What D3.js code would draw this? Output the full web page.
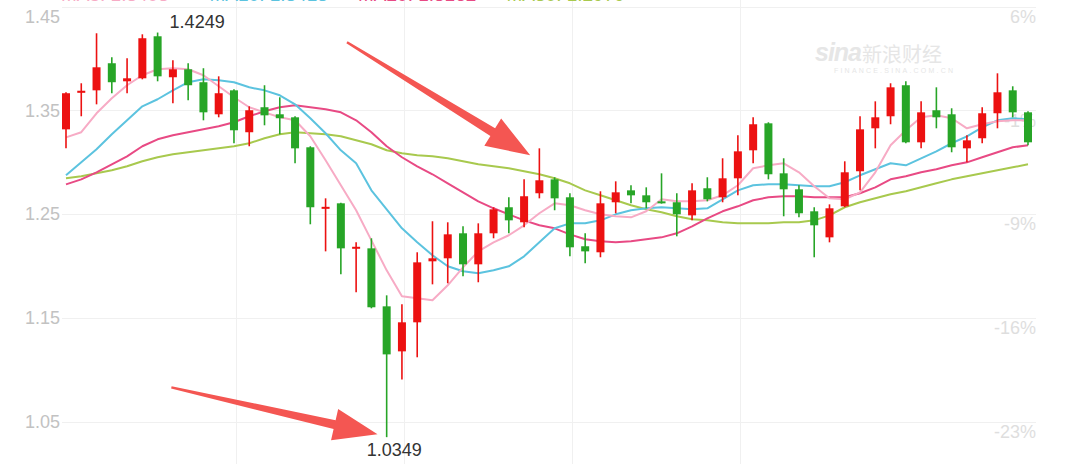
<!DOCTYPE html>
<html>
<head>
<meta charset="utf-8">
<script src="https://cdn.jsdelivr.net/npm/d3@7"></script>
<style>
  html, body { margin: 0; padding: 0; background: #fff; }
  svg { display: block; font-family: "Liberation Sans", Arial, sans-serif; }
</style>
</head>
<body>
<div id="chart"></div>
<script>
/* 日K线 + MA5/10/20/30 */
const openP = [1.3316,1.3668,1.3692,1.3953,1.3779,1.3808,1.4213,1.3818,1.3895,1.3770,
  1.3461,1.3692,1.3288,1.3529,1.3461,1.3432,1.3143,1.2555,1.2603,1.2169,
  1.2169,1.1610,1.1176,1.1456,1.2044,1.2073,1.2314,1.2015,1.2314,1.2565,
  1.2420,1.2700,1.2834,1.2661,1.2189,1.2131,1.2613,1.2728,1.2680,1.2622,
  1.2613,1.2487,1.2748,1.2661,1.2844,1.3114,1.3374,1.2892,1.2738,1.2526,
  1.2275,1.2574,1.2912,1.3326,1.3442,1.3741,1.3191,1.3500,1.3461,1.3133,
  1.3230,1.3471,1.3692,1.3480];
const highP = [1.3673,1.3760,1.4242,1.4011,1.4001,1.4232,1.4249,1.3982,1.3953,1.3905,
  1.3827,1.3702,1.3538,1.3741,1.3625,1.3442,1.3153,1.2651,1.2608,1.2227,
  1.2266,1.1716,1.1629,1.2131,1.2430,1.2420,1.2381,1.2410,1.2565,1.2661,
  1.2834,1.3133,1.2854,1.2700,1.2314,1.2719,1.2815,1.2777,1.2757,1.2892,
  1.2700,1.2796,1.2854,1.3037,1.3259,1.3432,1.3384,1.3037,1.2777,1.2565,
  1.2593,1.3008,1.3442,1.3586,1.3760,1.3779,1.3586,1.3721,1.3519,1.3259,
  1.3529,1.3856,1.3731,1.3490];
const lowP = [1.3133,1.3442,1.3557,1.3664,1.3664,1.3798,1.3779,1.3567,1.3596,1.3403,
  1.3432,1.3182,1.3153,1.3355,1.3268,1.2989,1.2401,1.2140,1.1919,1.1745,
  1.1591,1.0349,1.0906,1.1119,1.1822,1.1832,1.1899,1.1842,1.2266,1.2314,
  1.2372,1.2651,1.2536,1.2092,1.2025,1.2083,1.2507,1.2603,1.2555,1.2600,
  1.2285,1.2439,1.2622,1.2613,1.2680,1.2989,1.2834,1.2478,1.2468,1.2083,
  1.2227,1.2565,1.2728,1.3133,1.3365,1.3182,1.3133,1.3326,1.3095,1.2998,
  1.3182,1.3326,1.3432,1.3162];
const closeP = [1.3664,1.3688,1.3914,1.3770,1.3808,1.4194,1.3827,1.3895,1.3741,1.3480,
  1.3664,1.3307,1.3500,1.3451,1.3423,1.3133,1.2565,1.2569,1.2169,1.2184,
  1.1601,1.1147,1.1456,1.2034,1.2073,1.2304,1.2015,1.2314,1.2545,1.2439,
  1.2671,1.2825,1.2651,1.2179,1.2140,1.2603,1.2709,1.2680,1.2613,1.2603,
  1.2497,1.2728,1.2642,1.2844,1.3104,1.3365,1.2883,1.2738,1.2507,1.2391,
  1.2555,1.2902,1.3316,1.3432,1.3721,1.3191,1.3480,1.3432,1.3143,1.3210,
  1.3471,1.3673,1.3480,1.3191];

const ma5 = [1.3239,1.3288,1.3471,1.3615,1.3741,1.3837,1.3895,1.3905,1.3895,1.3837,
  1.3731,1.3625,1.3529,1.3480,1.3432,1.3403,1.3249,1.3018,1.2777,1.2536,
  1.2246,1.1957,1.1707,1.1687,1.1668,1.1813,1.1986,1.2140,1.2227,1.2295,
  1.2391,1.2507,1.2603,1.2584,1.2536,1.2497,1.2478,1.2468,1.2526,1.2642,
  1.2622,1.2622,1.2632,1.2680,1.2777,1.2941,1.2969,1.2989,1.2902,1.2767,
  1.2651,1.2642,1.2709,1.2902,1.3162,1.3307,1.3432,1.3451,1.3423,1.3326,
  1.3365,1.3394,1.3403,1.3403];
const ma10 = [1.2873,1.2998,1.3124,1.3268,1.3403,1.3538,1.3606,1.3692,1.3770,1.3798,
  1.3789,1.3770,1.3721,1.3692,1.3644,1.3557,1.3423,1.3278,1.3114,1.2989,
  1.2728,1.2545,1.2362,1.2227,1.2102,1.1996,1.1948,1.1928,1.1957,1.1996,
  1.2092,1.2227,1.2362,1.2410,1.2410,1.2439,1.2497,1.2536,1.2555,1.2565,
  1.2555,1.2545,1.2555,1.2642,1.2728,1.2777,1.2786,1.2786,1.2777,1.2767,
  1.2767,1.2806,1.2873,1.2931,1.2989,1.2969,1.3037,1.3104,1.3182,1.3249,
  1.3336,1.3403,1.3423,1.3413];
const ma20 = [1.2786,1.2834,1.2902,1.2979,1.3056,1.3153,1.3220,1.3259,1.3288,1.3316,
  1.3345,1.3384,1.3442,1.3490,1.3529,1.3548,1.3529,1.3509,1.3480,1.3403,
  1.3288,1.3153,1.3047,1.2960,1.2883,1.2796,1.2709,1.2622,1.2555,1.2497,
  1.2439,1.2391,1.2362,1.2304,1.2256,1.2237,1.2227,1.2237,1.2256,1.2275,
  1.2314,1.2381,1.2458,1.2526,1.2574,1.2632,1.2661,1.2671,1.2671,1.2661,
  1.2661,1.2661,1.2700,1.2757,1.2834,1.2863,1.2902,1.2931,1.2969,1.2998,
  1.3047,1.3095,1.3143,1.3162];
const ma30 = [1.2844,1.2863,1.2892,1.2921,1.2960,1.3008,1.3047,1.3075,1.3095,1.3114,
  1.3133,1.3153,1.3182,1.3230,1.3268,1.3288,1.3278,1.3268,1.3249,1.3210,
  1.3172,1.3114,1.3085,1.3066,1.3056,1.3037,1.3008,1.2979,1.2960,1.2941,
  1.2912,1.2883,1.2844,1.2796,1.2728,1.2680,1.2632,1.2584,1.2545,1.2516,
  1.2478,1.2449,1.2439,1.2420,1.2410,1.2410,1.2410,1.2420,1.2420,1.2439,
  1.2487,1.2565,1.2613,1.2651,1.2690,1.2719,1.2757,1.2796,1.2834,1.2863,
  1.2892,1.2921,1.2950,1.2979];

const maNames = ["MA5", "MA10", "MA20", "MA30"];
const maLast = ["1.3403", "1.3413", "1.3162", "1.2979"];
const priceTicks = [1.45, 1.35, 1.25, 1.15, 1.05];
const pctLabels = ["6%", "-1%", "-9%", "-16%", "-23%"];
const gridIdx = [11, 22, 33, 44];          // 竖向分隔线所在K线
const arrowFrom = [[18.4, 1.4155], [6.9, 1.0829]];
const arrowTo   = [[30.4, 1.3066], [20.4, 1.0376]];

(function () {
  const W = 1080, H = 464;
  const UP = "#ec1111", DOWN = "#27a527";
  const MA_COLORS = ["#f7abc5", "#5cc3df", "#e84a84", "#a8c94e"];

  const svg = d3.select("#chart").append("svg")
    .attr("width", W).attr("height", H).attr("viewBox", `0 0 ${W} ${H}`);

  const x = d3.scalePoint().domain(d3.range(openP.length)).range([66, 1028]);
  const xi = d3.scaleLinear().domain([0, openP.length - 1]).range([66, 1028]); // 箭头用（可取小数）
  const y = d3.scaleLinear().domain([1.05, 1.45]).range([421.5, 6.5]);

  /* 网格 */
  const grid = svg.append("g");
  grid.selectAll("line.h").data(priceTicks).join("line")
    .attr("class", "h")
    .attr("x1", 62).attr("x2", 1036)
    .attr("y1", d => Math.round(y(d)) + 0.5).attr("y2", d => Math.round(y(d)) + 0.5)
    .attr("stroke", "#f0f0f0");
  grid.selectAll("line.v").data(gridIdx).join("line")
    .attr("class", "v")
    .attr("x1", d => Math.round(x(d)) + 2.5).attr("x2", d => Math.round(x(d)) + 2.5)
    .attr("y1", 0).attr("y2", H)
    .attr("stroke", "#f0f0f0");

  /* 左轴价格 / 右轴涨跌幅 */
  svg.append("g").selectAll("text").data(priceTicks).join("text")
    .attr("x", 60)
    .attr("y", (d, i) => y(d) + (i === 0 ? 10 : 0))
    .attr("dy", "0.35em")
    .attr("text-anchor", "end")
    .attr("font-size", 18).attr("fill", "#c2c2c2")
    .text(d => d.toFixed(2));
  svg.append("g").selectAll("text").data(priceTicks).join("text")
    .attr("x", 1036)
    .attr("y", d => y(d) + 10)
    .attr("dy", "0.35em")
    .attr("text-anchor", "end")
    .attr("font-size", 18).attr("fill", "#dedede")
    .text((d, i) => pctLabels[i]);

  /* 水印 */
  const wm = svg.append("g").attr("fill", "#e6e6e6");
  wm.append("text").attr("x", 815).attr("y", 61)
    .attr("font-size", 25).attr("font-weight", "bold").attr("font-style", "italic")
    .attr("letter-spacing", -1).text("sina");
  wm.append("text").attr("x", 862).attr("y", 62)
    .attr("font-size", 20).attr("font-family", "Noto Sans CJK SC").text("新浪财经");
  wm.append("text").attr("x", 834).attr("y", 73)
    .attr("font-size", 7).attr("letter-spacing", 2.2).text("FINANCE.SINA.COM.CN");

  /* 均线 */
  const line = d3.line().x((d, i) => x(i)).y(d => y(d));
  svg.append("g").attr("fill", "none").attr("stroke-width", 2)
    .selectAll("path").data([ma30, ma20, ma10, ma5]).join("path")
    .attr("d", line)
    .attr("stroke", (d, i) => MA_COLORS[3 - i])
    .attr("stroke-linejoin", "round");

  /* K线：红涨绿跌 */
  const candles = svg.append("g").selectAll("g")
    .data(d3.range(openP.length)).join("g")
    .attr("fill", i => closeP[i] >= openP[i] ? UP : DOWN)
    .attr("stroke", i => closeP[i] >= openP[i] ? UP : DOWN);
  candles.append("line")
    .attr("x1", i => x(i)).attr("x2", i => x(i))
    .attr("y1", i => y(highP[i])).attr("y2", i => y(lowP[i]))
    .attr("stroke-width", 1.6);
  candles.append("rect")
    .attr("stroke", "none")
    .attr("x", i => x(i) - 4).attr("width", 8)
    .attr("y", i => y(Math.max(openP[i], closeP[i])))
    .attr("height", i => Math.max(2, Math.abs(y(openP[i]) - y(closeP[i]))));

  /* 最高 / 最低标注 */
  const iHi = d3.maxIndex(highP), iLo = d3.minIndex(lowP);
  svg.append("text").attr("x", x(iHi) + 12).attr("y", y(highP[iHi]) - 4.5)
    .attr("font-size", 18).attr("fill", "#333").text(highP[iHi].toFixed(4));
  svg.append("text").attr("x", x(iLo) - 20).attr("y", y(lowP[iLo]) + 18.5)
    .attr("font-size", 18).attr("fill", "#333").text(lowP[iLo].toFixed(4));

  /* 图例（截图上沿只露出底部） */
  svg.append("g").selectAll("text").data(maNames).join("text")
    .attr("x", (d, i) => 61 + i * 148.5).attr("y", 1)
    .attr("font-size", 19).attr("fill", (d, i) => MA_COLORS[i])
    .text((d, i) => `${d}: ${maLast[i]}`);

  /* 红色箭头 */
  svg.append("g").attr("fill", "#f45652")
    .selectAll("path").data(arrowFrom.map((f, i) => [f, arrowTo[i]])).join("path")
    .attr("d", ([f, t]) => {
      const x0 = xi(f[0]), y0 = y(f[1]), x1 = xi(t[0]), y1 = y(t[1]);
      const len = Math.hypot(x1 - x0, y1 - y0);
      const ux = (x1 - x0) / len, uy = (y1 - y0) / len, nx = -uy, ny = ux;
      const L = 44, hw = 16, sw = 4.5, tw = 1.2;
      const bx = x1 - ux * L, by = y1 - uy * L;
      const pts = [
        [x0 + nx * tw, y0 + ny * tw], [bx + nx * sw, by + ny * sw], [bx + nx * hw, by + ny * hw],
        [x1, y1],
        [bx - nx * hw, by - ny * hw], [bx - nx * sw, by - ny * sw], [x0 - nx * tw, y0 - ny * tw]
      ];
      return "M" + pts.map(p => p.join(",")).join("L") + "Z";
    });
})();
</script>
</body>
</html>
